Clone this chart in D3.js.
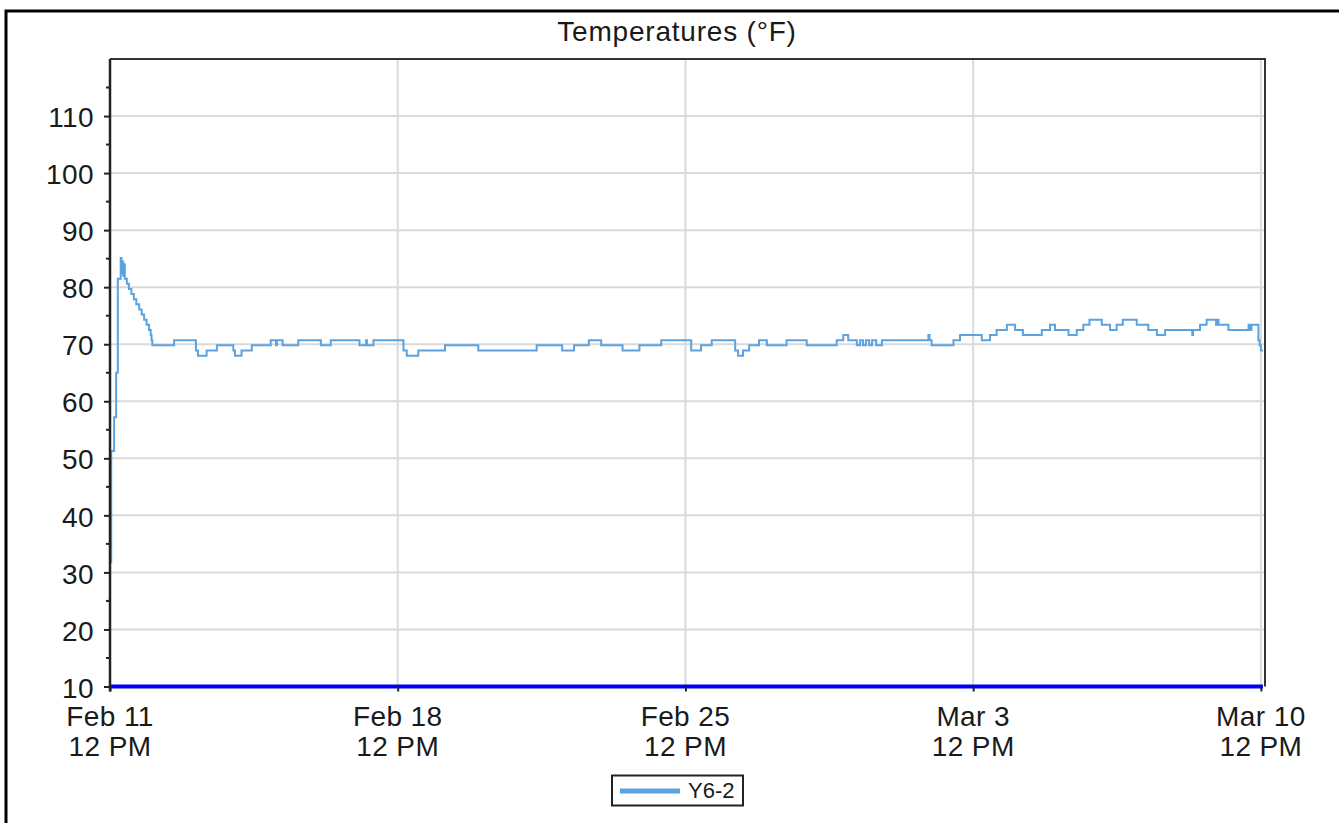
<!DOCTYPE html>
<html>
<head>
<meta charset="utf-8">
<script src="https://cdn.jsdelivr.net/npm/d3@7"></script>
<style>
  html, body { margin: 0; padding: 0; background: #fff; }
  svg { display: block; }
  text { font-family: "Liberation Sans", Arial, sans-serif; fill: #1a1a1a; }
</style>
</head>
<body>
<svg id="chart" width="1339" height="823"></svg>
<script>
// ---- data ----
const chartTitle = "Temperatures (°F)";
const seriesName = "Y6-2";
const startTime = "2019-02-11T12:00:00Z";
const domainDays = 28.1;
// days elapsed since Feb 11 12 PM at each reading (step changes)
const dayOffsets = [0.01, 0.03, 0.10, 0.15, 0.19, 0.26, 0.28, 0.30, 0.32, 0.34, 0.36,
  0.41, 0.46, 0.52, 0.58, 0.64, 0.71, 0.77, 0.83, 0.89, 0.95, 0.99, 1.01, 1.03,
  1.56, 2.09, 2.14, 2.35, 2.60, 3.00, 3.04, 3.20, 3.45, 3.91, 4.04, 4.06, 4.20,
  4.58, 5.13, 5.37, 6.07, 6.23, 6.25, 6.41, 7.14, 7.22, 7.50, 8.15, 8.96, 10.38,
  11.00, 11.29, 11.65, 11.95, 12.47, 12.88, 13.41, 14.14, 14.38, 14.64, 15.21,
  15.28, 15.40, 15.55, 15.79, 15.98, 16.46, 16.95, 17.68, 17.84, 17.96, 18.17,
  18.25, 18.32, 18.39, 18.47, 18.54, 18.64, 18.78, 19.91, 19.94, 19.99, 20.52,
  20.68, 21.21, 21.41, 21.57, 21.82, 22.02, 22.21, 22.67, 22.87, 22.99, 23.32,
  23.52, 23.68, 23.83, 24.13, 24.33, 24.49, 24.64, 24.98, 25.26, 25.47, 25.67,
  26.33, 26.35, 26.52, 26.68, 26.91, 26.93, 26.97, 27.21, 27.70, 27.74, 27.77,
  27.94, 27.97, 28.00, 28.05];
const tempF = [31.8, 51.3, 57.2, 65.0, 81.5, 85.1, 82.5, 84.5, 82.0, 84.0, 81.5,
  80.6, 79.7, 78.8, 77.9, 77.0, 76.1, 75.2, 74.3, 73.4, 72.5, 71.6, 70.7, 69.8,
  70.7, 68.9, 68.0, 68.9, 69.8, 68.9, 68.0, 68.9, 69.8, 70.7, 69.8, 70.7, 69.8,
  70.7, 69.8, 70.7, 69.8, 70.7, 69.8, 70.7, 68.9, 68.0, 68.9, 69.8, 68.9, 69.8,
  68.9, 69.8, 70.7, 69.8, 68.9, 69.8, 70.7, 68.9, 69.8, 70.7, 68.9,
  68.0, 68.9, 69.8, 70.7, 69.8, 70.7, 69.8, 70.7, 71.6, 70.7, 69.8,
  70.7, 69.8, 70.7, 69.8, 70.7, 69.8, 70.7, 71.6, 70.7, 69.8, 70.7,
  71.6, 70.7, 71.6, 72.5, 73.4, 72.5, 71.6, 72.5, 73.4, 72.5, 71.6,
  72.5, 73.4, 74.3, 73.4, 72.5, 73.4, 74.3, 73.4, 72.5, 71.6, 72.5,
  71.6, 72.5, 73.4, 74.3, 73.4, 74.3, 73.4, 72.5, 73.4, 72.5, 73.4,
  70.7, 69.8, 68.9, 68.9];
// flat blue reference series along the bottom of the plot
const baseDays = [0, 28.05];
const baseF = [10, 10];
const yTicksMajor = [10, 20, 30, 40, 50, 60, 70, 80, 90, 100, 110];
const yTicksMinor = [15, 25, 35, 45, 55, 65, 75, 85, 95, 105, 115];
const xTickDays = [0, 7, 14, 21, 28];
const xTickLabels = [["Feb 11", "12 PM"], ["Feb 18", "12 PM"], ["Feb 25", "12 PM"], ["Mar 3", "12 PM"], ["Mar 10", "12 PM"]];

// ---- chart ----
const svg = d3.select("#chart");
const L = 110, R = 1265, T = 59, B = 686.5;
const FS = 28, LS = "0.4px";
const t0 = new Date(startTime).getTime();
const DAY = 86400000;
const toDate = d => new Date(t0 + d * DAY);

const x = d3.scaleUtc().domain([toDate(0), toDate(domainDays)]).range([L, R]);
const y = d3.scaleLinear().domain([10, 120]).range([B, T]);

// outer frame
svg.append("rect").attr("x", 6).attr("y", 11).attr("width", 1360).attr("height", 840)
  .attr("fill", "none").attr("stroke", "#000").attr("stroke-width", 3);

// title
svg.append("text").attr("x", 677).attr("y", 41).attr("text-anchor", "middle")
  .attr("font-size", FS).attr("letter-spacing", "0.8px").text(chartTitle);

// grid
const grid = svg.append("g");
grid.selectAll("line.h").data(yTicksMajor.filter(v => v > 10)).join("line")
  .attr("x1", L).attr("x2", R).attr("y1", d => y(d)).attr("y2", d => y(d))
  .attr("stroke", "#dadada").attr("stroke-width", 2);
grid.selectAll("line.v").data(xTickDays.filter(d => d > 0)).join("line")
  .attr("x1", d => x(toDate(d))).attr("x2", d => x(toDate(d)))
  .attr("y1", T).attr("y2", B)
  .attr("stroke", "#dadada").attr("stroke-width", 2);

// series
const pts = dayOffsets.map((d, i) => ({ t: toDate(d), v: tempF[i] }));
const line = d3.line().x(d => x(d.t)).y(d => y(d.v)).curve(d3.curveStepAfter);
svg.append("path").datum(pts).attr("d", line)
  .attr("fill", "none").attr("stroke", "#5ba3e0").attr("stroke-width", 2);

// bottom blue series
const basePts = baseDays.map((d, i) => ({ t: toDate(d), v: baseF[i] }));
svg.append("path").datum(basePts).attr("d", d3.line().x(d => x(d.t)).y(d => y(d.v)))
  .attr("fill", "none").attr("stroke", "#0000ff").attr("stroke-width", 4);

// plot frame (top, right)
svg.append("path").attr("d", `M${L},${T}H${R}V${B}`)
  .attr("fill", "none").attr("stroke", "#333").attr("stroke-width", 2);

// y axis
const yAxis = svg.append("g").attr("transform", `translate(${L},0)`)
  .call(d3.axisLeft(y).tickValues(yTicksMajor).tickSize(6).tickPadding(10).tickFormat(d3.format("d")));
yAxis.select(".domain").attr("stroke", "#222").attr("stroke-width", 2.5)
  .attr("d", `M0,${T}V${B + 5}`);
yAxis.selectAll(".tick line").attr("stroke", "#222").attr("stroke-width", 2);
yAxis.selectAll(".tick text").attr("font-size", FS).attr("letter-spacing", LS)
  .attr("font-family", "Liberation Sans, Arial, sans-serif")
  .attr("fill", "#1a1a1a").attr("dy", "0.38em");
svg.append("g").selectAll("line").data(yTicksMinor).join("line")
  .attr("x1", L - 4).attr("x2", L).attr("y1", d => y(d)).attr("y2", d => y(d))
  .attr("stroke", "#222").attr("stroke-width", 2);

// x axis ticks + labels
const xAxis = svg.append("g").attr("transform", `translate(0,${B})`)
  .call(d3.axisBottom(x).tickValues(xTickDays.map(toDate)).tickSize(5).tickFormat(""));
xAxis.select(".domain").remove();
xAxis.selectAll(".tick line").attr("stroke", "#222").attr("stroke-width", 2);
const xl = svg.append("g").selectAll("text").data(xTickDays).join("text")
  .attr("x", d => x(toDate(d))).attr("y", 726).attr("text-anchor", "middle")
  .attr("font-size", FS).attr("letter-spacing", LS);
xl.append("tspan").text((d, i) => xTickLabels[i][0]);
xl.append("tspan").attr("x", d => x(toDate(d))).attr("dy", 30).text((d, i) => xTickLabels[i][1]);

// legend
const lg = svg.append("g");
lg.append("rect").attr("x", 612).attr("y", 775.5).attr("width", 131).attr("height", 30)
  .attr("fill", "#fff").attr("stroke", "#222").attr("stroke-width", 2);
lg.append("line").attr("x1", 620).attr("x2", 680).attr("y1", 791).attr("y2", 791)
  .attr("stroke", "#5ba3e0").attr("stroke-width", 5);
lg.append("text").attr("x", 688).attr("y", 798).attr("font-size", 22).text(seriesName);
</script>
</body>
</html>
